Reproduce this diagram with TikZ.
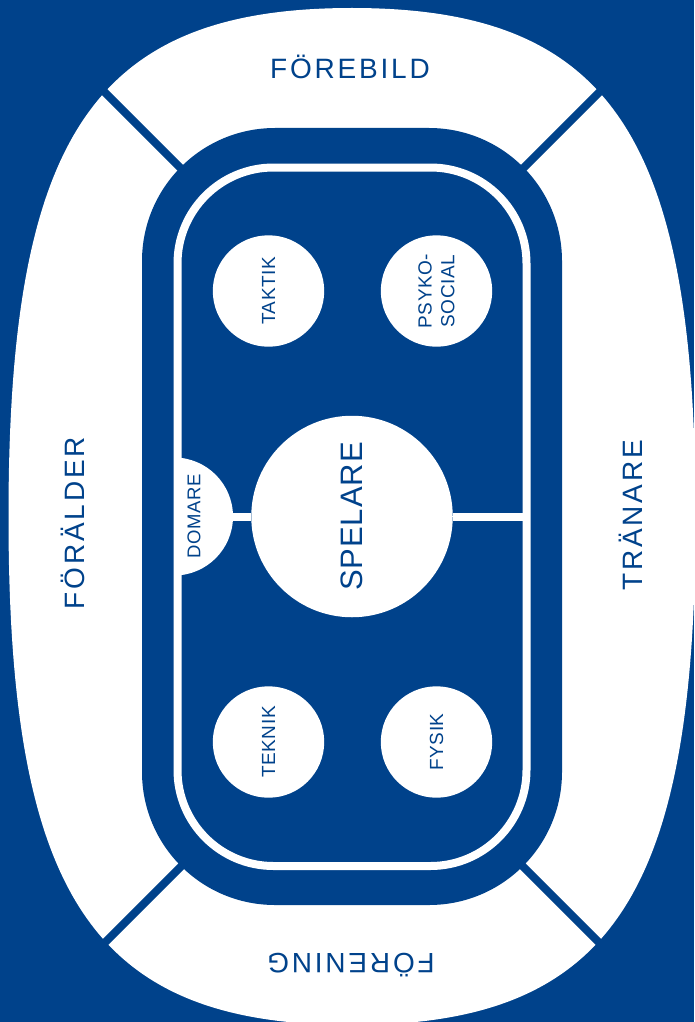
\documentclass[tikz,border=0pt]{standalone}
\usepackage{fontspec}
\setmainfont{Liberation Sans}
\newfontfamily\bigfont[LetterSpace=10]{Liberation Sans}
\newfontfamily\smallfont[LetterSpace=3]{Liberation Sans}
\definecolor{sfblue}{HTML}{00428B}
\tikzset{
  bubble/.style={circle, fill=white, text=sfblue, inner sep=0pt, minimum size=111.4pt,
    font=\smallfont\fontsize{19}{22.7}\selectfont, align=center},
  bigbubble/.style={circle, fill=white, text=sfblue, inner sep=0pt, minimum size=201.5pt,
    font=\smallfont\fontsize{31}{34}\selectfont},
  ringlabel/.style={text=sfblue, inner sep=0pt, font=\bigfont\fontsize{28}{30}\selectfont},
  divider/.style={draw=sfblue, line width=8pt},
  whiteline/.style={draw=white, line width=8pt},
}
\begin{document}
\begin{tikzpicture}[x=1pt,y=-1pt]
\useasboundingbox (0,0) rectangle (694,1022);
\fill[sfblue] (0,0) rectangle (694,1022);
% outer white ring shape
\fill[white] (352,8) .. controls (94.4,8) and (8.5,135.1) .. (8.5,516.5)
  .. controls (8.5,897.9) and (94.4,1025) .. (352,1025)
  .. controls (609.6,1025) and (695.5,897.9) .. (695.5,516.5)
  .. controls (695.5,135.1) and (609.6,8) .. (352,8) -- cycle;
% dividers
\coordinate (tlA) at (80,67.5);   \coordinate (tlB) at (190,177.5);
\coordinate (trA) at (624,67.5);  \coordinate (trB) at (514,177.5);
\coordinate (blA) at (80,967.5);  \coordinate (blB) at (190,857.5);
\coordinate (brA) at (624,967.5); \coordinate (brB) at (514,857.5);
\draw[divider] (tlA) -- (tlB);
\draw[divider] (trA) -- (trB);
\draw[divider] (blA) -- (blB);
\draw[divider] (brA) -- (brB);
% blue field
\fill[sfblue, rounded corners=133pt] (142,128) rectangle (562,905);
\draw[whiteline, rounded corners=96pt] (177.5,167.5) rectangle (526.5,866);
% domare half disc
\begin{scope}
  \clip (177.5,400) rectangle (320,640);
  \node[circle, fill=white, inner sep=0pt, minimum size=118pt] (domdisc) at (174,516.5) {};
\end{scope}
\node[bigbubble, rotate=90] (spelare) at (352,516.5) {SPELARE};
\coordinate (domedge) at (230,516.5);
\coordinate (rbar) at (526.5,516.5);
\draw[whiteline] (domedge) -- (spelare);
\draw[whiteline] (spelare) -- (rbar);
\node[rotate=90, text=sfblue, inner sep=0pt, font=\smallfont\fontsize{18.5}{20}\selectfont] (domare) at (194,516.5) {DOMARE};
% bubbles
\node[bubble, rotate=90] (taktik) at (268.5,291) {TAKTIK};
\node[bubble, rotate=90] (psyko) at (436.5,291) {PSYKO-\\SOCIAL};
\node[bubble, rotate=90] (teknik) at (268.5,742) {TEKNIK};
\node[bubble, rotate=90] (fysik) at (436.5,742) {FYSIK};
% ring labels
\node[ringlabel, anchor=base] (forebild) at (350,78.3) {FÖREBILD};
\node[ringlabel, anchor=base, rotate=90] (foralder) at (84.5,523) {FÖRÄLDER};
\node[ringlabel, anchor=base, rotate=90] (tranare) at (642,515.5) {TRÄNARE};
\node[ringlabel, anchor=base, rotate=180] (forening) at (351,953) {FÖRENING};
\end{tikzpicture}
\end{document}
